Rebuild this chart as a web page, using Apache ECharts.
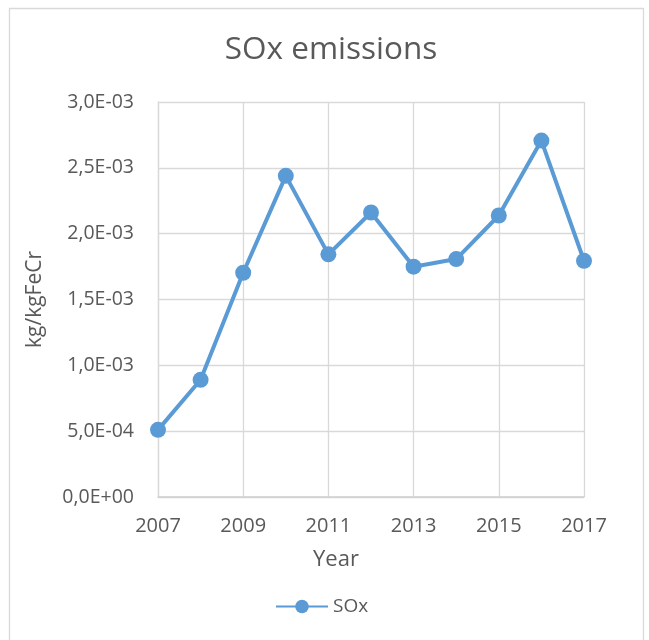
<!DOCTYPE html>
<html>
<head>
<meta charset="utf-8">
<style>
  html, body { margin: 0; padding: 0; background: #ffffff; }
  #chart { width: 649px; height: 640px; }
</style>
<script src="https://cdn.jsdelivr.net/npm/echarts@6/dist/echarts.min.js"></script>
</head>
<body>
<div id="chart"></div>
<script>
// Annual SOx emissions per kg of ferrochrome produced
const years = ['2007', '2008', '2009', '2010', '2011', '2012', '2013', '2014', '2015', '2016', '2017'];
const soxValues = [0.000510, 0.000890, 0.001703, 0.002439, 0.001843, 0.002161, 0.001749, 0.001807, 0.002138, 0.002707, 0.001794];
const seriesName = 'SOx';
const titleText = 'SOx emissions';
const yAxisTitle = 'kg/kgFeCr';
const xAxisTitle = 'Year';

const FONT = '"Open Sans", "Noto Sans", sans-serif';
const TEXT = '#595959';
const BLUE = '#5B9BD5';

// Scientific notation with a decimal comma and two-digit exponent, e.g. 2,5E-03
function sci(v) {
  if (v === 0) return '0,0E+00';
  const [m, e] = v.toExponential(1).split('e');
  const n = parseInt(e, 10);
  const sign = n < 0 ? '-' : '+';
  const digits = String(Math.abs(n)).padStart(2, '0');
  return m.replace('.', ',') + 'E' + sign + digits;
}

const chart = echarts.init(document.getElementById('chart'), null, { renderer: 'canvas' });
chart.setOption({
  backgroundColor: '#ffffff',
  animation: false,
  textStyle: { fontFamily: FONT },
  title: {
    text: titleText,
    left: 326,
    top: 29,
    textAlign: 'center',
    textStyle: { fontFamily: FONT, fontSize: 31.5, fontWeight: 'normal', color: TEXT }
  },
  grid: { left: 158, right: 65, top: 102, bottom: 143, containLabel: false },
  xAxis: {
    type: 'category',
    data: years,
    boundaryGap: false,
    axisLine: { show: true, lineStyle: { color: '#D0D0D0', width: 1.5 } },
    axisTick: { show: false },
    axisLabel: { interval: 1, margin: 19, fontSize: 20, color: TEXT, fontFamily: FONT },
    splitLine: { show: true, interval: 1, lineStyle: { color: '#D9D9D9', width: 1.3 } }
  },
  yAxis: {
    type: 'value',
    min: 0,
    max: 0.003,
    interval: 0.0005,
    name: yAxisTitle,
    nameLocation: 'middle',
    nameGap: 112,
    nameTextStyle: { fontSize: 21, color: TEXT, fontFamily: FONT },
    axisLine: { show: true, lineStyle: { color: '#D9D9D9', width: 1.3 } },
    axisTick: { show: false },
    axisLabel: { margin: 24, fontSize: 19.5, color: TEXT, fontFamily: FONT, formatter: sci },
    splitLine: { show: true, lineStyle: { color: '#D9D9D9', width: 1.3 } }
  },
  legend: {
    data: [seriesName],
    left: 270,
    top: 592,
    itemWidth: 52,
    itemHeight: 17,
    itemGap: 5,
    textStyle: { fontSize: 19, color: TEXT, fontFamily: FONT }
  },
  series: [{
    name: seriesName,
    type: 'line',
    data: soxValues,
    symbol: 'circle',
    symbolSize: 16,
    lineStyle: { color: BLUE, width: 4 },
    itemStyle: { color: BLUE },
    z: 3
  }],
  graphic: [
    {
      type: 'rect',
      shape: { x: 9.5, y: 8.5, width: 634, height: 660 },
      style: { fill: 'none', stroke: '#D9D9D9', lineWidth: 1.3 },
      silent: true
    },
    {
      type: 'text',
      x: 336,
      y: 560,
      style: {
        text: xAxisTitle,
        font: '22px ' + FONT,
        fill: TEXT,
        align: 'center',
        verticalAlign: 'middle'
      },
      silent: true
    }
  ]
});
</script>
</body>
</html>
